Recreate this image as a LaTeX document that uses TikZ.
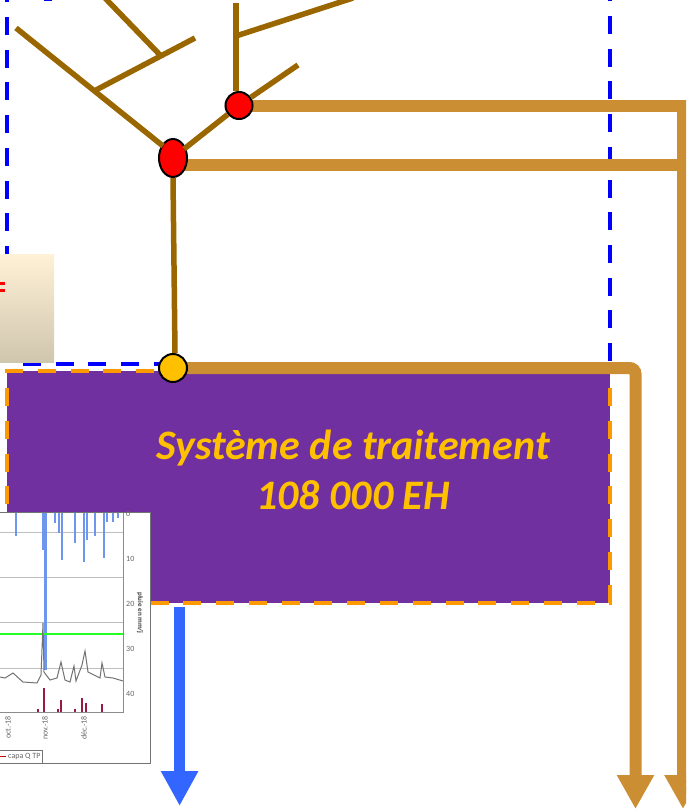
\documentclass[tikz,border=0pt]{standalone}
\usepackage{fontspec}
\setmainfont{Carlito}
\usetikzlibrary{arrows.meta, positioning, shapes.geometric}
\definecolor{reseau}{HTML}{996600}
\definecolor{tuyau}{HTML}{CC8E33}
\definecolor{station}{HTML}{7030A0}
\definecolor{jaune}{HTML}{FFC000}
\definecolor{tirets}{HTML}{FF9900}
\definecolor{pluie}{HTML}{6E96EE}
\definecolor{fleche}{HTML}{3366FF}
\definecolor{beigehaut}{HTML}{FFF1D6}
\definecolor{beigemilieu}{HTML}{F3ECD8}
\definecolor{beigebas}{HTML}{CFC6AE}
\tikzset{
	branche/.style={draw=reseau,line width=5.5pt},
	tuyaupipe/.style={draw=tuyau,line width=12pt},
	descente/.style={tuyaupipe,-{Triangle[width=35pt,length=34pt]}},
	regard/.style={draw=black,line width=2pt,inner sep=0pt,fill=red},
	limite/.style={draw=blue,line width=4pt,dash pattern=on 18pt off 14.7pt},
	bordure/.style={draw=tirets,line width=4pt,dash pattern=on 18pt off 14.77pt},
	grille/.style={draw=black!25,line width=.7pt},
	graduation/.style={text=black!60,font=\fontsize{8}{9}\selectfont,inner sep=0pt}
}
\begin{document}
\begin{tikzpicture}[x=1pt,y=-1pt]
	\useasboundingbox (0,0) rectangle (686,809);
	\clip (0,0) rectangle (686,809);

	% enveloppe
	\draw[limite] (7,-15.7) -- (7,364);
	\draw[limite] (23,363.5) -- (610,363.5);
	\draw[limite] (610,361) -- (610,-12);
	\draw[blue,line width=2pt] (44,0) -- (52,0);

	% station
	\node[fill=station,minimum width=603pt,minimum height=232pt,inner sep=0pt,anchor=north west] (station) at (7,371) {};
	\draw[bordure] (5,371) -- (610,371);
	\draw[bordure] (7,388) -- (7,605);
	\draw[bordure] (610,388) -- (610,605);
	\draw[bordure] (19.5,603) -- (612,603);
	\node[text=jaune,font=\fontsize{42}{50}\selectfont\bfseries\itshape,align=center] (titre) at (353,470)
		{Système de traitement\\108 000 EH};

	% cartouche
	\shade[top color=beigehaut,middle color=beigemilieu,bottom color=beigebas] (0,254) rectangle (54,362);
	\fill[red] (0,282) rectangle (5,285);
	\fill[red] (0,289) rectangle (5,292);

	% points
	\coordinate (c0) at (163,146);
	\coordinate (c1) at (16,28);
	\coordinate (c2) at (96,90);
	\coordinate (c3) at (195,38);
	\coordinate (c4) at (161,56);
	\coordinate (c5) at (105,-2);
	\coordinate (c6) at (298,65);
	\coordinate (c7) at (236,3);
	\coordinate (c8) at (236,36);
	\coordinate (c9) at (353,-2);
	\coordinate (c10) at (184,149);
	\coordinate (p1) at (239,105.5);
	\coordinate (p2) at (178,165);
	\coordinate (p3) at (173,368);
	\coordinate (s1) at (635.5,809);
	\coordinate (s2) at (683,809);
	\coordinate (a1) at (635.5,368);
	\coordinate (a2) at (683,105.5);
	\coordinate (a3) at (683,165);
	\coordinate (b0) at (179.6,607);
	\coordinate (b1) at (179.6,806);

	% tuyaux
	\draw[tuyaupipe] (p2) -- (a3);
	\draw[descente] (p1) -- (a2) -- (s2);
	\draw[descente,rounded corners=6pt] (p3) -- (a1) -- (s1);
	\draw[draw=fleche,line width=11.5pt,-{Triangle[width=35pt,length=35pt]}] (b0) -- (b1);

	\node[regard,ellipse,minimum width=28pt,minimum height=38pt] (dev1) at (173,158) {};
	\node[regard,circle,minimum size=27pt] (dev2) at (p1) {};
	\node[regard,circle,minimum size=28pt,fill=jaune] (entree) at (p3) {};

	% reseau
	\draw[branche] (dev1.south) -- ([xshift=2pt]entree.north);
	\draw[branche] (c0) -- (c1);
	\draw[branche] (c2) -- (c3);
	\draw[branche] (c4) -- (c5);
	\draw[branche] (c10) -- (dev2);
	\draw[branche] (dev2) -- (c6);
	\draw[branche] ([xshift=-3pt]dev2.north) -- (c7);
	\draw[branche] (c8) -- (c9);

	% graphique
	\draw[fill=white,draw=black!55,line width=1pt] (-5,512) rectangle (150,763);
	\foreach \y in {532,577,622,668}
		\draw[grille] (0,\y) -- (123,\y);
	\foreach \x/\y in {16/536,43/550,55/523,59/533,62/560,75/543,84/562,87/540,95/536,104/558,107/522,113/522,118/518}
		\draw[pluie,line width=1.6pt] (\x,513) -- (\x,\y);
	\draw[pluie,line width=3pt] (45,513) -- (45,670);
	\draw[green!85!white,line width=2pt] (0,634) -- (123,634);
	\draw[black!55,line width=1pt] (0,677) -- (5,678) -- (13,673) -- (23,682) -- (37,683) -- (41,675) -- (43,623) -- (44,672)
		-- (50,680) -- (57,678) -- (61,662) -- (65,680) -- (70,682) -- (74,666) -- (76,681) -- (82,665) -- (85,651)
		-- (88,672) -- (100,678) -- (102,663) -- (105,677) -- (113,678) -- (123,681);
	\foreach \x/\y in {38/709,44/688,58/709,61/700,75/709,82/698,86/703,102/704}
		\draw[purple!75!black!90!white,line width=1.3pt] (\x,712) -- (\x,\y);
	\draw[black!45,line width=1pt] (0,712) -- (123,712) -- (123,513);
	\foreach \t/\y in {0/514,10/559,20/604,30/649,40/694}
		\node[graduation,anchor=west] (t\t) at (126,\y) {\t};
	\node[graduation,rotate=-90,font=\fontsize{7}{8}\selectfont\bfseries,text=black!75] (axe) at (140,613) {pluie en mm/j};
	\node[graduation,rotate=90,anchor=east] (oct) at (8,716) {oct.-18};
	\node[graduation,rotate=90,anchor=east] (nov) at (45,716) {nov.-18};
	\node[graduation,rotate=90,anchor=east] (dec) at (84,716) {déc.-18};
	\draw[black!55,line width=.8pt] (-2,750) rectangle (42,763);
	\draw[red!80!black,line width=1pt] (0,756.5) -- (6,756.5);
	\node[graduation,anchor=west] (capa) at (8,756.5) {capa Q TP};
\end{tikzpicture}
\end{document}
